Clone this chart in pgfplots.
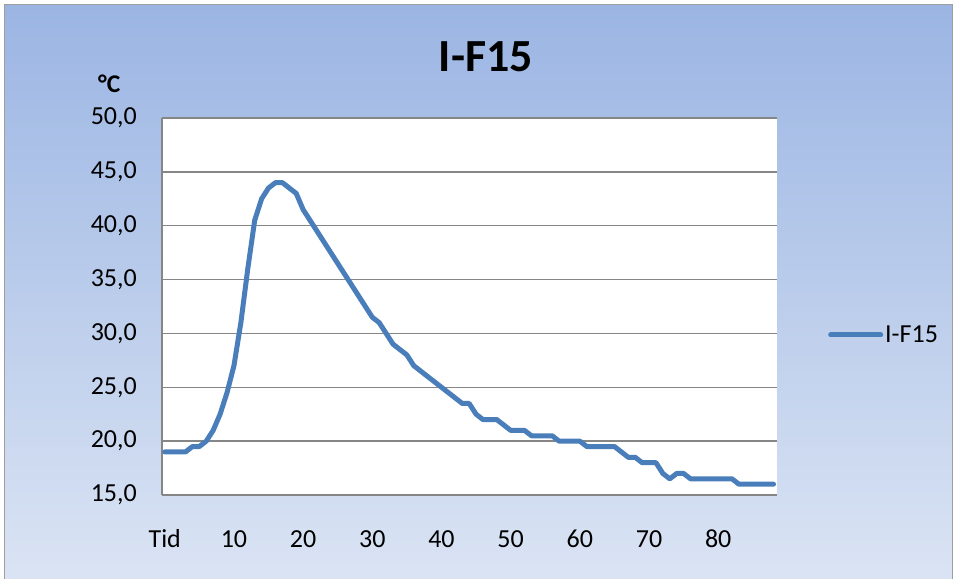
\documentclass[border=0pt]{standalone}
\usepackage{pgfplots}
\pgfplotsset{compat=1.18}
\usepackage{fontspec}
\setmainfont{Carlito}
\definecolor{bgtop}{HTML}{9BB5E3}
\definecolor{bgbot}{HTML}{DCE5F4}
\definecolor{gridgray}{HTML}{868686}
\definecolor{lineblue}{HTML}{4A7EBB}
\begin{document}
\begin{tikzpicture}[x=1bp,y=1bp]
\path[use as bounding box] (-162,-84) rectangle (795,495);
\shade[top color=bgtop, bottom color=bgbot] (-157,-100) rectangle (790,490);
\draw[gridgray!80, line width=1bp] (-157,-100) rectangle (790,490);
\node[anchor=base, font=\fontsize{46bp}{50bp}\selectfont\bfseries] at (324,423.3) {I-F15};
\node[anchor=base west, inner sep=0pt, font=\fontsize{25.5bp}{30bp}\selectfont\bfseries] at (-64,402.3) {°C};
\begin{axis}[
  at={(0,0)}, anchor=south west,
  scale only axis, width=615bp, height=377bp,
  xmin=-0.4, xmax=88.5, ymin=15, ymax=50,
  axis background/.style={fill=white},
  axis lines*=left,
  axis line style={draw=gridgray, line width=1.5bp, -},
  ymajorgrids, grid style={draw=gridgray, line width=1.5bp},
  major tick length=0pt,
  ytick={15,20,25,30,35,40,45,50},
  xtick={0,10,20,30,40,50,60,70,80},
  xticklabels={Tid,10,20,30,40,50,60,70,80},
  /pgf/number format/.cd, fixed, fixed zerofill, precision=1, use comma, assume math mode=true,
  /pgfplots/.cd,
  yticklabel style={font=\fontsize{26bp}{30bp}\selectfont, anchor=east, inner sep=0pt, xshift=-25bp},
  xticklabel style={font=\fontsize{26bp}{30bp}\selectfont, anchor=base, inner sep=0pt, yshift=-53bp},
  legend style={at={(1.0829,0.4244)}, anchor=west, draw=none, fill=none, inner sep=0pt,
    font=\fontsize{26bp}{30bp}\selectfont},
  legend image code/.code={\draw[#1] (0bp,0bp) -- (50bp,0bp);},
  clip=false,
]
\addplot[color=lineblue, line width=5bp, line join=round, line cap=round] coordinates {
(0,19.0)(1,19.0)(2,19.0)(3,19.0)(4,19.5)(5,19.5)(6,20.0)(7,21.0)(8,22.5)(9,24.5)
(10,27.0)(11,31.0)(12,36.0)(13,40.5)(14,42.5)(15,43.5)(16,44.0)(17,44.0)(18,43.5)(19,43.0)
(20,41.5)(21,40.5)(22,39.5)(23,38.5)(24,37.5)(25,36.5)(26,35.5)(27,34.5)(28,33.5)(29,32.5)
(30,31.5)(31,31.0)(32,30.0)(33,29.0)(34,28.5)(35,28.0)(36,27.0)(37,26.5)(38,26.0)(39,25.5)
(40,25.0)(41,24.5)(42,24.0)(43,23.5)(44,23.5)(45,22.5)(46,22.0)(47,22.0)(48,22.0)(49,21.5)
(50,21.0)(51,21.0)(52,21.0)(53,20.5)(54,20.5)(55,20.5)(56,20.5)(57,20.0)(58,20.0)(59,20.0)
(60,20.0)(61,19.5)(62,19.5)(63,19.5)(64,19.5)(65,19.5)(66,19.0)(67,18.5)(68,18.5)(69,18.0)
(70,18.0)(71,18.0)(72,17.0)(73,16.5)(74,17.0)(75,17.0)(76,16.5)(77,16.5)(78,16.5)(79,16.5)
(80,16.5)(81,16.5)(82,16.5)(83,16.0)(84,16.0)(85,16.0)(86,16.0)(87,16.0)(88,16.0)
};
\addlegendentry{I-F15}
\end{axis}
\end{tikzpicture}
\end{document}
